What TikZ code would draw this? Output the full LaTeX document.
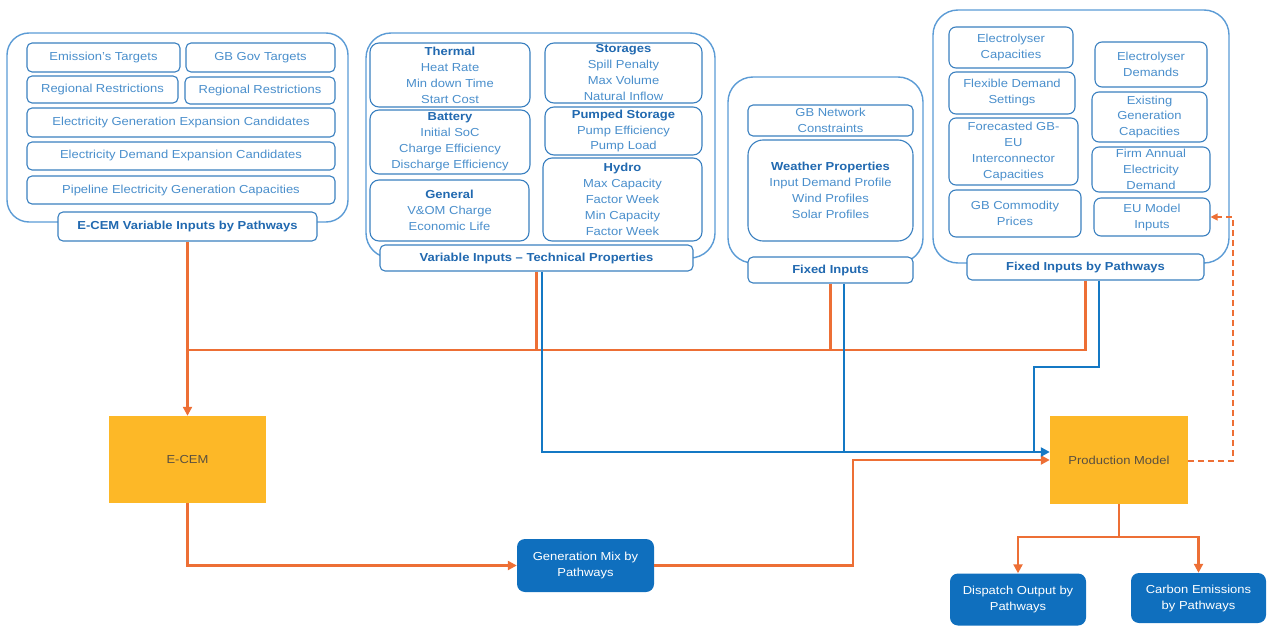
\documentclass[tikz,border=0pt]{standalone}
\usepackage{fontspec}
\setmainfont{Liberation Sans}[FakeStretch=1.12]
\usetikzlibrary{arrows.meta}
\definecolor{grpc}{HTML}{5B9BD5}
\definecolor{boxc}{HTML}{3A80C0}
\definecolor{txtc}{HTML}{4A8FCC}
\definecolor{hdc}{HTML}{2169B0}
\definecolor{orc}{HTML}{ED6F35}
\definecolor{blc}{HTML}{1478C4}
\definecolor{yelc}{HTML}{FDB827}
\definecolor{bfill}{HTML}{0F6FBE}
\definecolor{dtxt}{HTML}{5A5040}
\newcommand{\hd}[1]{{\bfseries\color{hdc}#1}}
\begin{document}
\begin{tikzpicture}[x=1pt,y=-1pt,
  every node/.style={font=\fontsize{11.6}{16}\selectfont, inner sep=0pt, align=center},
  grp/.style={draw=grpc, line width=1.4pt, rounded corners=22pt},
  ibox/.style={draw=boxc, line width=1.1pt, rounded corners=5pt, fill=white, text=txtc},
  lbl/.style={ibox, font=\fontsize{11.6}{16}\selectfont\bfseries, text=hdc},
  model/.style={fill=yelc, text=dtxt},
  outbox/.style={fill=bfill, text=white, rounded corners=8pt},
  ol/.style={draw=orc, line width=2.6pt},
  bl/.style={draw=blc, line width=2.6pt},
  od/.style={draw=orc, line width=1.2pt, dash pattern=on 6pt off 4pt},
  >={Triangle[length=9pt,width=9pt]}]
\useasboundingbox (0,0) rectangle (1267,626);

% ---------- left group ----------
\node[grp, minimum width=341pt, minimum height=189pt] (GL) at (177.5,127.5) {};
\node[ibox, minimum width=153pt, minimum height=29pt] (emi) at (103.5,57.5) {Emission's Targets};
\node[ibox, minimum width=149pt, minimum height=29pt] (gbg) at (260.5,57.5) {GB Gov Targets};
\node[ibox, minimum width=151pt, minimum height=27pt] (reg1) at (102.5,89.5) {Regional Restrictions};
\node[ibox, minimum width=150pt, minimum height=27pt] (reg2) at (260,90.5) {Regional Restrictions};
\node[ibox, minimum width=308pt, minimum height=29pt] (egec) at (181,122.5) {Electricity Generation Expansion Candidates};
\node[ibox, minimum width=308pt, minimum height=28pt] (edec) at (181,156) {Electricity Demand Expansion Candidates};
\node[ibox, minimum width=308pt, minimum height=28pt] (pipe) at (181,190) {Pipeline Electricity Generation Capacities};
\node[lbl, minimum width=259pt, minimum height=29pt] (LL) at (187.5,226.5) {E-CEM Variable Inputs by Pathways};

% ---------- middle group ----------
\node[grp, rounded corners=25pt, minimum width=349pt, minimum height=225pt] (GM) at (540.5,145.5) {};
\node[ibox, rounded corners=9pt, minimum width=160pt, minimum height=64pt] (therm) at (450,75) {\hd{Thermal}\\Heat Rate\\Min down Time\\Start Cost};
\node[ibox, rounded corners=9pt, minimum width=160pt, minimum height=64pt] (batt) at (450,142) {\hd{Battery}\\Initial SoC\\Charge Efficiency\\Discharge Efficiency};
\node[ibox, rounded corners=9pt, minimum width=159pt, minimum height=61pt] (gen) at (449.5,210.5) {\hd{General}\\V\&OM Charge\\Economic Life};
\node[ibox, rounded corners=9pt, minimum width=157pt, minimum height=60pt] (stor) at (623.5,73) {\hd{Storages}\\Spill Penalty\\Max Volume\\Natural Inflow};
\node[ibox, rounded corners=9pt, minimum width=157pt, minimum height=48pt] (pump) at (623.5,131) {\hd{Pumped Storage}\\Pump Efficiency\\Pump Load};
\node[ibox, rounded corners=9pt, minimum width=159pt, minimum height=83pt] (hydro) at (622.5,199.5) {\hd{Hydro}\\Max Capacity\\Factor Week\\Min Capacity\\Factor Week};
\node[lbl, minimum width=313pt, minimum height=26pt] (ML) at (536.5,258) {Variable Inputs -- Technical Properties};

% ---------- fixed inputs ----------
\node[grp, rounded corners=25pt, minimum width=195pt, minimum height=186pt] (GF) at (825.5,170) {};
\node[ibox, minimum width=165pt, minimum height=31pt] (gbnet) at (830.5,120.5) {GB Network\\Constraints};
\node[ibox, rounded corners=15pt, minimum width=165pt, minimum height=101pt] (weather) at (830.5,190.5) {\hd{Weather Properties}\\Input Demand Profile\\Wind Profiles\\Solar Profiles};
\node[lbl, minimum width=165pt, minimum height=26pt] (FL) at (830.5,270) {Fixed Inputs};

% ---------- right group ----------
\node[grp, rounded corners=25pt, minimum width=296pt, minimum height=253pt] (GR) at (1081,136.5) {};
\node[ibox, rounded corners=7pt, minimum width=124pt, minimum height=41pt] (elcap) at (1011,47.5) {Electrolyser\\Capacities};
\node[ibox, rounded corners=7pt, minimum width=126pt, minimum height=42pt] (flex) at (1012,93) {Flexible Demand\\Settings};
\node[ibox, rounded corners=7pt, minimum width=129pt, minimum height=67pt] (fore) at (1013.5,151.5) {Forecasted GB-\\EU\\Interconnector\\Capacities};
\node[ibox, rounded corners=7pt, minimum width=132pt, minimum height=47pt] (comm) at (1015,213.5) {GB Commodity\\Prices};
\node[ibox, rounded corners=7pt, minimum width=112pt, minimum height=45pt] (eldem) at (1151,64.5) {Electrolyser\\Demands};
\node[ibox, rounded corners=7pt, minimum width=115pt, minimum height=50pt] (exist) at (1149.5,117) {Existing\\Generation\\Capacities};
\node[ibox, rounded corners=7pt, minimum width=118pt, minimum height=45pt] (firm) at (1151,169.5) {Firm Annual\\Electricity\\Demand};
\node[ibox, rounded corners=7pt, minimum width=116pt, minimum height=38pt] (eum) at (1152,217) {EU Model\\Inputs};
\node[lbl, minimum width=237pt, minimum height=26pt] (RL) at (1085.5,267) {Fixed Inputs by Pathways};

% ---------- models and outputs ----------
\node[model, minimum width=157pt, minimum height=87pt] (ECEM) at (187.5,459.5) {E-CEM};
\node[model, minimum width=138pt, minimum height=88pt] (Prod) at (1119,460) {Production Model};
\node[outbox, minimum width=137pt, minimum height=53pt] (GenMix) at (585.5,565.5) {Generation Mix by\\Pathways};
\node[outbox, minimum width=136pt, minimum height=52pt] (Disp) at (1018,599.5) {Dispatch Output by\\Pathways};
\node[outbox, minimum width=135pt, minimum height=50pt] (Carb) at (1198.5,598) {Carbon Emissions\\by Pathways};

% ---------- orange connectors ----------
\coordinate (bus) at (187.5,350);
\draw[ol,->] (LL.south) -- (ECEM.north);
\draw[ol] (RL.south) |- (bus);
\draw[ol] (ML.south) -- (ML.south |- bus);
\draw[ol] (FL.south) -- (FL.south |- bus);
\coordinate (gx) at (853,0);
\draw[ol,->] (GenMix.east) -| (gx |- Prod.west) -- (Prod.west);
\draw[ol,->] (ECEM.south) |- (GenMix.west);
\coordinate (split) at (1119,537);
\draw[ol,->] (Prod.south) -- (split) -| (Disp.north);
\draw[ol,->] (split) -| (Carb.north);
\coordinate (dx) at (1233,0);
\draw[od,-{Triangle[length=7pt,width=7pt]}] ([yshift=-1pt]Prod.east) -| (dx |- eum.east) -- (eum.east);

% ---------- blue connectors ----------
\coordinate (pin) at ([yshift=8pt]Prod.west);
\draw[bl,->] ([xshift=5.5pt]ML.south) |- (pin);
\draw[bl] ([xshift=13.5pt]FL.south) -- ([xshift=13.5pt]FL.south |- pin);
\coordinate (bj) at (1034,367);
\draw[bl] ([xshift=13.5pt]RL.south) |- (bj) -- (bj |- pin);
\end{tikzpicture}
\end{document}
